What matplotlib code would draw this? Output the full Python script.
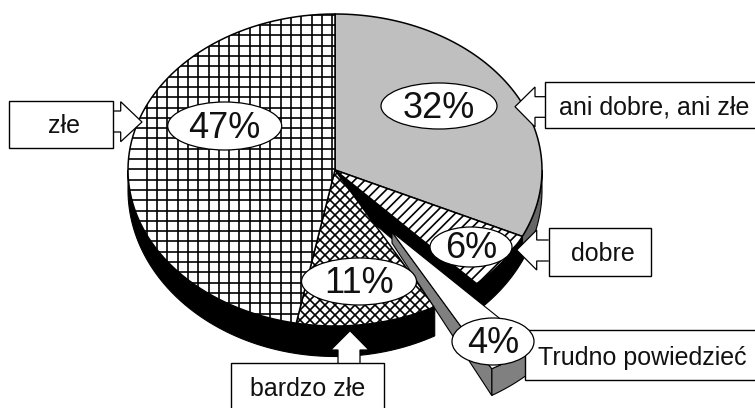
# -*- coding: utf-8 -*-
import numpy as np
import matplotlib
matplotlib.use("Agg")
import matplotlib.pyplot as plt
from matplotlib.patches import Polygon, Ellipse, Rectangle

plt.rcParams['font.family'] = ['Liberation Sans', 'DejaVu Sans']

# dane - kolejno od godziny 12, zgodnie z ruchem wskazowek
kategorie = ["ani dobre, ani złe", "dobre", "Trudno powiedzieć", "bardzo złe", "złe"]
wartosci = [32, 6, 4, 11, 47]

# geometria kola w pikselach obrazka
cx, cy = 335, 170
rx, ry = 207, 156
LW = 1.1


def luk(x0, y0, t0, t1, a, b):
    t = np.radians(np.linspace(t0, t1, 80))
    return np.column_stack([x0 + a * np.sin(t), y0 - b * np.cos(t)])


def klin(x0, y0, t0, t1):
    return np.vstack([[x0, y0], luk(x0, y0, t0, t1, rx, ry)])


def rant(x0, y0, t0, t1, d0, dry, kolor):
    gora = luk(x0, y0, t0, t1, rx, ry)
    dol = luk(x0, y0 + d0, t0, t1, rx, ry + dry)
    ax.add_patch(Polygon(np.vstack([gora, dol[::-1]]), fc=kolor, ec='black', lw=0.8))


def kreski(patch, x_start, x_stop, krok, nachylenie):
    # recznie rysowany wzor, przyciety do wycinka
    for x in np.arange(x_start, x_stop, krok):
        l, = ax.plot([x - 400, x + 400], [cy - 400 * -nachylenie, cy + 400 * -nachylenie],
                     color='black', lw=1.2, solid_capstyle='butt')
        l.set_clip_path(patch)


fig = plt.figure(figsize=(7.55, 4.08), dpi=100)
ax = fig.add_axes([0, 0, 1, 1])
ax.set_xlim(0, 755)
ax.set_ylim(408, 0)
ax.axis('off')

granice = np.cumsum([0] + wartosci) * 3.6
t = {k: (granice[i], granice[i + 1]) for i, k in enumerate(kategorie)}

# boki kola
rant(cx, cy, 90, t["ani dobre, ani złe"][1], 20, 10.5, '#666666')
rant(cx, cy, t["dobre"][0], t["dobre"][1], 20, 10.5, 'black')
rant(cx, cy, t["bardzo złe"][0], 270, 20, 10.5, 'black')

# sciana przekroju odslonieta przez wysuniety wycinek
kon = luk(cx, cy, t["dobre"][1], t["dobre"][1], rx, ry)[0]
kon_d = luk(cx, cy + 20, t["dobre"][1], t["dobre"][1], rx, ry + 10.5)[0]
ax.add_patch(Polygon([[cx, cy], kon, kon_d, [cx, cy + 20]], fc='black', ec='black', lw=0.8))

# wierzch kola
p = Polygon(klin(cx, cy, *t["ani dobre, ani złe"]), fc='#bfbfbf', ec='black', lw=LW)
ax.add_patch(p)

p = Polygon(klin(cx, cy, *t["dobre"]), fc='white', ec='black', lw=LW)
ax.add_patch(p)
kreski(p, 200, 760, 10.3, 1)

p = Polygon(klin(cx, cy, *t["bardzo złe"]), fc='white', ec='black', lw=LW)
ax.add_patch(p)
kreski(p, 0, 760, 10, 1)
kreski(p, 0, 760, 10, -1)

p = Polygon(klin(cx, cy, *t["złe"]), fc='white', ec='black', lw=LW)
ax.add_patch(p)
for x in np.arange(146.7, 345, 10.3):
    l, = ax.plot([x, x], [0, 400], color='black', lw=1.2)
    l.set_clip_path(p)
for y in np.arange(4.5, 340, 10.3):
    l, = ax.plot([100, 345], [y, y], color='black', lw=1.2)
    l.set_clip_path(p)

# wysuniety wycinek
wx, wy = cx + 57, cy + 62
t0, t1 = t["Trudno powiedzieć"]
rant(wx, wy, t0, t1, 11, 18, '#808080')
kw = luk(wx, wy, t1, t1, rx, ry)[0]
kw_d = luk(wx, wy + 11, t1, t1, rx, ry + 18)[0]
ax.add_patch(Polygon([[wx, wy], kw, kw_d, [wx, wy + 11]], fc='#808080', ec='black', lw=0.8))
ax.add_patch(Polygon(klin(wx, wy, t0, t1), fc='white', ec='black', lw=0.8))

# strzalki
strzalki = [
    [(112.7, 111), (120.7, 111), (120.7, 101.7), (142, 122), (120.7, 141.7), (120.7, 132), (112.7, 132)],
    [(545, 96.7), (535, 96.7), (535, 87), (515, 106.7), (535, 127), (535, 117.3), (545, 117.3)],
    [(548.7, 240), (536.7, 240), (536.7, 230), (516.7, 250), (536.7, 270), (536.7, 261), (548.7, 261)],
    [(338, 363), (338, 350), (330.7, 350), (350, 330.7), (369, 350), (360, 350), (360, 363)],
]
for s in strzalki:
    ax.add_patch(Polygon(s, closed=False, fc='white', ec='black', lw=0.9))

# ramki z opisami
ramki = {
    "złe": (9.3, 101, 103.4, 47),
    "ani dobre, ani złe": (545, 81.7, 215, 46.3),
    "dobre": (548.7, 228, 102.3, 47.7),
    "bardzo złe": (231, 363, 153, 46),
    "Trudno powiedzieć": (525, 330, 235, 50),
}
teksty = {
    "złe": (64, 126),
    "ani dobre, ani złe": (654, 108),
    "dobre": (603, 254),
    "bardzo złe": (308, 389),
    "Trudno powiedzieć": (642, 358),
}
for k in kategorie:
    x, y, w, h = ramki[k]
    ax.add_patch(Rectangle((x, y), w, h, fc='white', ec='black', lw=1.0))
    ax.text(*teksty[k], k, fontsize=18, ha='center', va='center', color='#111111')

# owale z procentami
owale = {
    "złe": (224.7, 126, 114, 48),
    "ani dobre, ani złe": (439, 106, 116, 46),
    "dobre": (471, 247, 82, 40),
    "bardzo złe": (359, 281.5, 115, 47),
    "Trudno powiedzieć": (493, 341.5, 82, 47),
}
for k, v in zip(kategorie, wartosci):
    ox, oy, ow, oh = owale[k]
    ax.add_patch(Ellipse((ox, oy), ow, oh, fc='white', ec='black', lw=0.9, zorder=5))
    ax.text(ox, oy + 2, f"{v}%", fontsize=26, ha='center', va='center', color='#111111', zorder=6)

fig.savefig("out.png", dpi=100)
